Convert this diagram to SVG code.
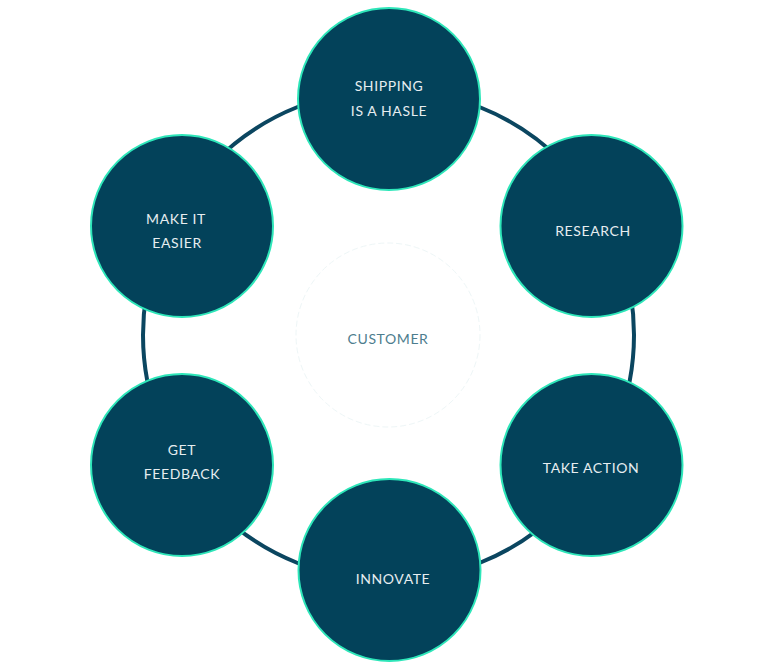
<svg xmlns="http://www.w3.org/2000/svg" width="768" height="668" viewBox="0 0 768 668">
<style>
.node{fill:#03425a;stroke:#2ee6b9;stroke-width:2}
.lbl{font-family:Lato,"Open Sans","Liberation Sans",sans-serif;font-size:14px;letter-spacing:0.6px;fill:#e6edf0;text-anchor:middle}
.ring{fill:none;stroke:#0b4660;stroke-width:4}
</style>
<rect width="768" height="668" fill="#ffffff"/>
<g id="connectors">
<circle class="ring" cx="388.5" cy="335" r="245.5"/>
</g>
<g id="customer">
<circle cx="388" cy="335" r="92" fill="#ffffff" stroke="#eef6f7" stroke-width="1" stroke-dasharray="6 3"/>
<text class="lbl" x="388" y="344" style="fill:#4d7d8e">CUSTOMER</text>
</g>
<g id="shipping">
<circle class="node" cx="389" cy="99" r="91"/>
<text class="lbl" x="389" y="91">SHIPPING</text>
<text class="lbl" x="389" y="116">IS A HASLE</text>
</g>
<g id="research">
<circle class="node" cx="591.5" cy="226" r="91"/>
<text class="lbl" x="593" y="236">RESEARCH</text>
</g>
<g id="take-action">
<circle class="node" cx="591.5" cy="465" r="91"/>
<text class="lbl" x="591" y="473">TAKE ACTION</text>
</g>
<g id="innovate">
<circle class="node" cx="389.5" cy="570" r="91"/>
<text class="lbl" x="393" y="584">INNOVATE</text>
</g>
<g id="get-feedback">
<circle class="node" cx="182" cy="465" r="91"/>
<text class="lbl" x="182" y="455">GET</text>
<text class="lbl" x="182" y="479">FEEDBACK</text>
</g>
<g id="make-it-easier">
<circle class="node" cx="182" cy="226" r="91"/>
<text class="lbl" x="176" y="224">MAKE IT</text>
<text class="lbl" x="177" y="248">EASIER</text>
</g>
</svg>
